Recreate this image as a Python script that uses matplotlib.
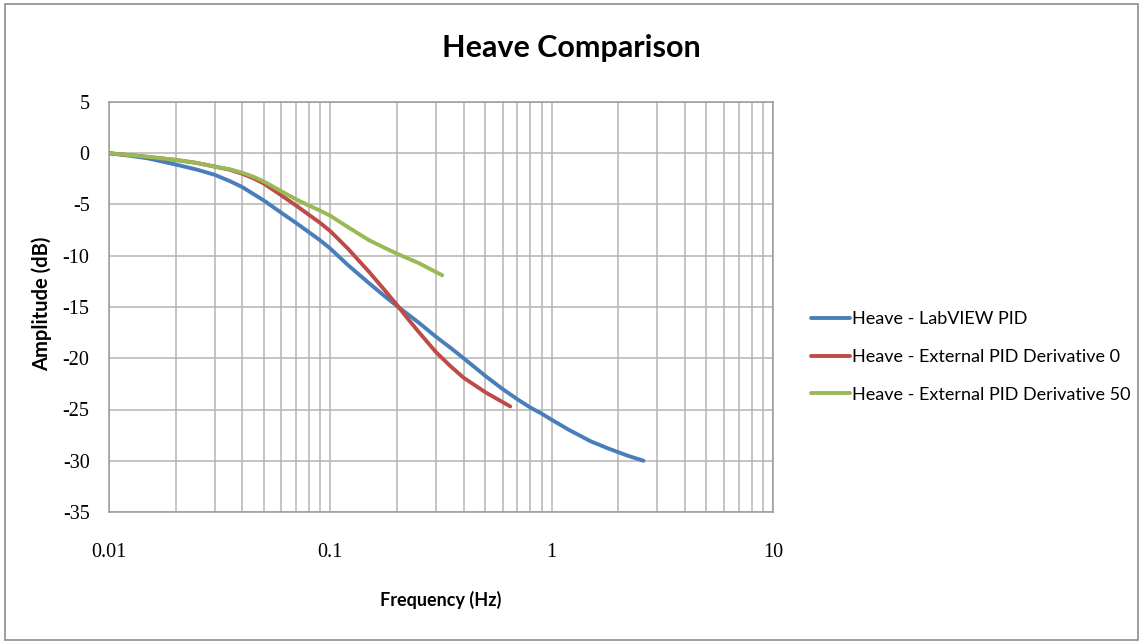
import matplotlib
matplotlib.use("Agg")
import matplotlib.pyplot as plt
from matplotlib.patches import Rectangle
from matplotlib.ticker import FixedLocator, LogLocator, NullFormatter

plt.rcParams["axes.unicode_minus"] = False

# Frequency response data (Hz, dB)
freq_labview = [0.01, 0.0125, 0.015, 0.02, 0.025, 0.03, 0.035, 0.04, 0.05, 0.06,
                0.07, 0.08, 0.09, 0.1, 0.12, 0.15, 0.175, 0.2, 0.25, 0.3, 0.35,
                0.4, 0.5, 0.6, 0.7, 0.8, 0.9, 1.0, 1.2, 1.5, 1.8, 2.2, 2.6]
amp_labview = [0.0, -0.25, -0.5, -1.1, -1.6, -2.1, -2.7, -3.3, -4.6, -5.8,
               -6.8, -7.7, -8.5, -9.3, -10.9, -12.7, -13.9, -14.9, -16.5, -17.9,
               -19.0, -20.0, -21.7, -23.0, -24.0, -24.8, -25.4, -26.0, -27.0,
               -28.1, -28.8, -29.5, -30.0]

freq_ext_d0 = [0.01, 0.015, 0.02, 0.025, 0.03, 0.035, 0.04, 0.045, 0.05, 0.06,
               0.07, 0.08, 0.09, 0.1, 0.12, 0.15, 0.175, 0.2, 0.225, 0.25, 0.3,
               0.35, 0.4, 0.5, 0.65]
amp_ext_d0 = [0.0, -0.35, -0.65, -0.95, -1.3, -1.6, -2.0, -2.45, -2.95, -4.1,
              -5.1, -6.0, -6.8, -7.6, -9.3, -11.6, -13.3, -14.8, -16.2, -17.4,
              -19.4, -20.8, -21.9, -23.3, -24.7]

freq_ext_d50 = [0.01, 0.015, 0.02, 0.025, 0.03, 0.035, 0.04, 0.045, 0.05, 0.06,
                0.07, 0.08, 0.09, 0.1, 0.12, 0.15, 0.175, 0.2, 0.25, 0.32]
amp_ext_d50 = [0.0, -0.35, -0.65, -0.95, -1.3, -1.55, -1.9, -2.3, -2.75, -3.7,
               -4.5, -5.1, -5.6, -6.1, -7.2, -8.5, -9.2, -9.8, -10.7, -11.9]

series_labels = ["Heave - LabVIEW PID",
                 "Heave - External PID Derivative 0",
                 "Heave - External PID Derivative 50"]
series_colors = ["#4A7EBB", "#BE4B48", "#98B954"]

x_ticks = [0.01, 0.1, 1, 10]
x_tick_labels = ["0.01", "0.1", "1", "10"]
y_ticks = [5, 0, -5, -10, -15, -20, -25, -30, -35]

title_text = "Heave Comparison"
x_title = "Frequency (Hz)"
y_title = "Amplitude (dB)"

label_font = ["Lato", "DejaVu Sans"]
tick_font = ["Liberation Serif", "DejaVu Serif"]

fig = plt.figure(figsize=(11.43, 6.44), dpi=100)
fig.patch.set_facecolor("white")

# Outer chart border
fig.add_artist(Rectangle((5 / 1143, 4 / 644), 1133 / 1143, 636 / 644,
                         transform=fig.transFigure, fill=False,
                         edgecolor="#8c8c8c", linewidth=1.2))

ax = fig.add_axes([109 / 1143, 1 - 512 / 644, 664 / 1143, 410 / 644])

ax.set_xscale("log")
ax.set_xlim(0.01, 10)
ax.set_ylim(-35, 5)

ax.xaxis.set_major_locator(FixedLocator(x_ticks))
ax.set_xticklabels(x_tick_labels)
ax.xaxis.set_minor_locator(LogLocator(base=10, subs=range(2, 10)))
ax.xaxis.set_minor_formatter(NullFormatter())
ax.yaxis.set_major_locator(FixedLocator(y_ticks))

grid_color = "#b4b4b4"
ax.grid(True, which="major", axis="both", color=grid_color, linewidth=1.1)
ax.grid(True, which="minor", axis="x", color=grid_color, linewidth=1.1)
ax.set_axisbelow(True)
for spine in ax.spines.values():
    spine.set_color("#9a9a9a")
    spine.set_linewidth(1.1)

ax.tick_params(axis="both", which="both", length=0)
for lbl in ax.get_xticklabels() + ax.get_yticklabels():
    lbl.set_fontfamily(tick_font)
    lbl.set_fontsize(14.5)
ax.tick_params(axis="y", pad=14)
ax.tick_params(axis="x", pad=22)

lines = []
for fx, ay, lab, col in zip([freq_labview, freq_ext_d0, freq_ext_d50],
                            [amp_labview, amp_ext_d0, amp_ext_d50],
                            series_labels, series_colors):
    ln, = ax.plot(fx, ay, color=col, linewidth=2.8, label=lab,
                  solid_capstyle="round", solid_joinstyle="round")
    lines.append(ln)

# Draw order: red above blue, green above both
for z, ln in enumerate(lines):
    ln.set_zorder(3 + z)

fig.text(571 / 1143, 1 - 48 / 644, title_text, ha="center", va="center",
         fontsize=22, fontweight="bold", family=label_font)
fig.text(441 / 1143, 1 - 600 / 644, x_title, ha="center", va="center",
         fontsize=13, fontweight="bold", family=label_font)
fig.text(42 / 1143, 1 - 304 / 644, y_title, ha="center", va="center",
         rotation=90, fontsize=14.5, fontweight="bold", family=label_font)

leg = fig.legend(handles=lines, labels=series_labels,
                 loc="center left", bbox_to_anchor=(811 / 1143, 1 - 357 / 644),
                 frameon=False, borderpad=0, borderaxespad=0,
                 handlelength=2.15, handletextpad=0.1,
                 labelspacing=1.2, prop={"family": label_font, "size": 13})
for h in leg.legend_handles:
    h.set_linewidth(2.8)

fig.savefig("out.png", dpi=100, facecolor="white")
